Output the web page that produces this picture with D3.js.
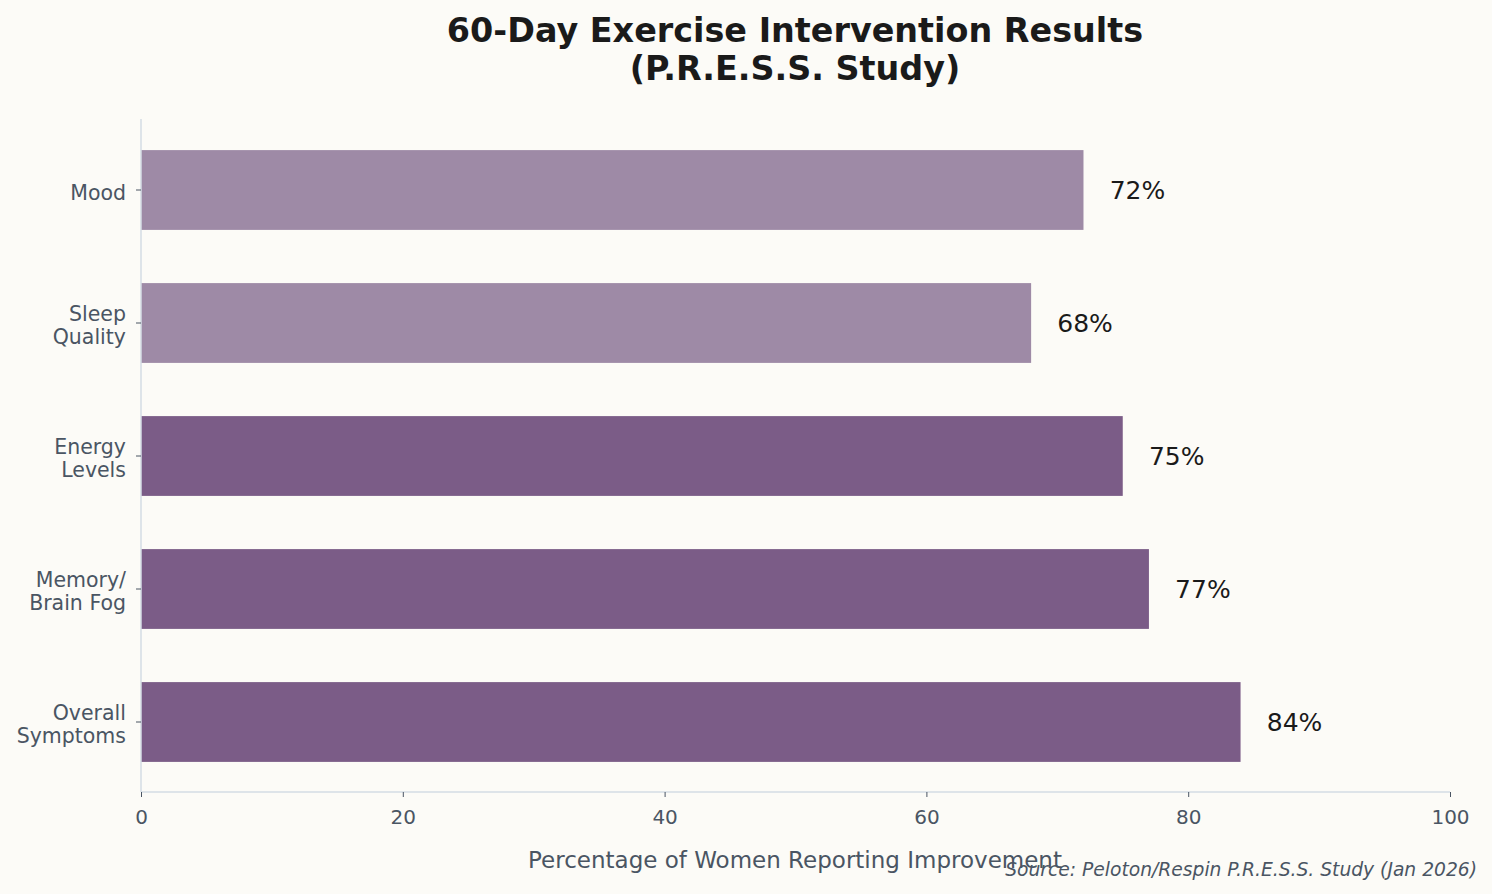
<!DOCTYPE html>
<html>
<head>
<meta charset="utf-8">
<script src="https://cdn.jsdelivr.net/npm/d3@7"></script>
<style>
  body { margin: 0; background: #fcfbf7; }
  svg { display: block; font-family: "DejaVu Sans", sans-serif; }
</style>
</head>
<body>
<div class="chart"></div>
<script>
// Data (top to bottom as drawn)
const categories = ["Mood", "Sleep\nQuality", "Energy\nLevels", "Memory/\nBrain Fog", "Overall\nSymptoms"];
const values = [72, 68, 75, 77, 84];
const highlighted = [false, false, true, true, true];
const xTicks = [0, 20, 40, 60, 80, 100];

const viewW = 1492;
const viewH = 894;

const svg = d3.select(".chart")
    .append("svg")
    .attr("width", viewW)
    .attr("height", viewH);

svg.append("rect")
    .attr("width", viewW)
    .attr("height", viewH)
    .attr("fill", "#fcfbf7");

// Plot area
const plotL = 141, plotR = 1450, plotT = 119, plotB = 792;

// Scales
const xScale = d3.scaleLinear().domain([0, 100]).range([plotL, plotR]);
const yScale = d3.scaleBand()
    .domain(categories)
    .range([plotT + 4.5, plotB - 3.5])
    .paddingInner(0.4)
    .paddingOuter(0.2);

// Bars
svg.selectAll("rect.bar")
    .data(categories)
    .join("rect")
    .attr("class", "bar")
    .attr("x", xScale(0))
    .attr("y", d => yScale(d))
    .attr("width", (d, i) => xScale(values[i]) - xScale(0))
    .attr("height", yScale.bandwidth())
    .attr("fill", (d, i) => highlighted[i] ? "#7b5c87" : "#9e8aa6");

// Value labels
svg.selectAll("text.val")
    .data(categories)
    .join("text")
    .attr("class", "val")
    .attr("x", (d, i) => xScale(values[i] + 2))
    .attr("y", d => yScale(d) + yScale.bandwidth() / 2)
    .attr("dy", "0.35em")
    .attr("font-size", 25)
    .attr("fill", "#1a1a1a")
    .text((d, i) => values[i] + "%");

// X axis
const xAxis = d3.axisBottom(xScale).tickValues(xTicks).tickSize(5).tickPadding(13);
const gx = svg.append("g")
    .attr("transform", `translate(0, ${plotB})`)
    .call(xAxis);
gx.select(".domain").attr("stroke", "#d5dde5").attr("stroke-width", 1.5).attr("d", `M${plotL},0H${plotR}`);
gx.selectAll(".tick line").attr("stroke", "#4a5563");
gx.selectAll(".tick text").attr("fill", "#4a5563").attr("font-size", 20).attr("font-family", "DejaVu Sans, sans-serif");

// Y axis
const yAxis = d3.axisLeft(yScale).tickSize(5).tickPadding(9).tickFormat("");
const gy = svg.append("g")
    .attr("transform", `translate(${plotL}, 0)`)
    .call(yAxis);
gy.select(".domain").attr("stroke", "#d5dde5").attr("stroke-width", 1.5).attr("d", `M0,${plotT}V${plotB}`);
gy.selectAll(".tick line").attr("stroke", "#4a5563");
gy.selectAll(".tick").each(function(d) {
    const lines = d.split("\n");
    const t = d3.select(this).append("text")
        .attr("x", -15)
        .attr("text-anchor", "end")
        .attr("fill", "#4a5563")
        .attr("font-size", 20.5)
        .attr("font-family", "DejaVu Sans, sans-serif");
    lines.forEach((ln, k) => {
        t.append("tspan")
            .attr("x", -15)
            .attr("y", 2.5 + (k - (lines.length - 1) / 2) * 22.5)
            .attr("dy", "0.35em")
            .text(ln);
    });
});

// Title
const title = svg.append("text")
    .attr("x", 795)
    .attr("text-anchor", "middle")
    .attr("font-size", 33.4)
    .attr("font-weight", "bold")
    .attr("fill", "#1a1a1a");
title.append("tspan").attr("x", 795).attr("y", 42).text("60-Day Exercise Intervention Results");
title.append("tspan").attr("x", 795).attr("y", 80).text("(P.R.E.S.S. Study)");

// Axis label
svg.append("text")
    .attr("x", 795)
    .attr("y", 868)
    .attr("text-anchor", "middle")
    .attr("font-size", 23)
    .attr("fill", "#4a5563")
    .text("Percentage of Women Reporting Improvement");

// Source note
svg.append("text")
    .attr("x", 1477)
    .attr("y", 876)
    .attr("text-anchor", "end")
    .attr("font-size", 18.7)
    .attr("font-style", "italic")
    .attr("fill", "#4a5563")
    .text("Source: Peloton/Respin P.R.E.S.S. Study (Jan 2026)");
</script>
</body>
</html>
